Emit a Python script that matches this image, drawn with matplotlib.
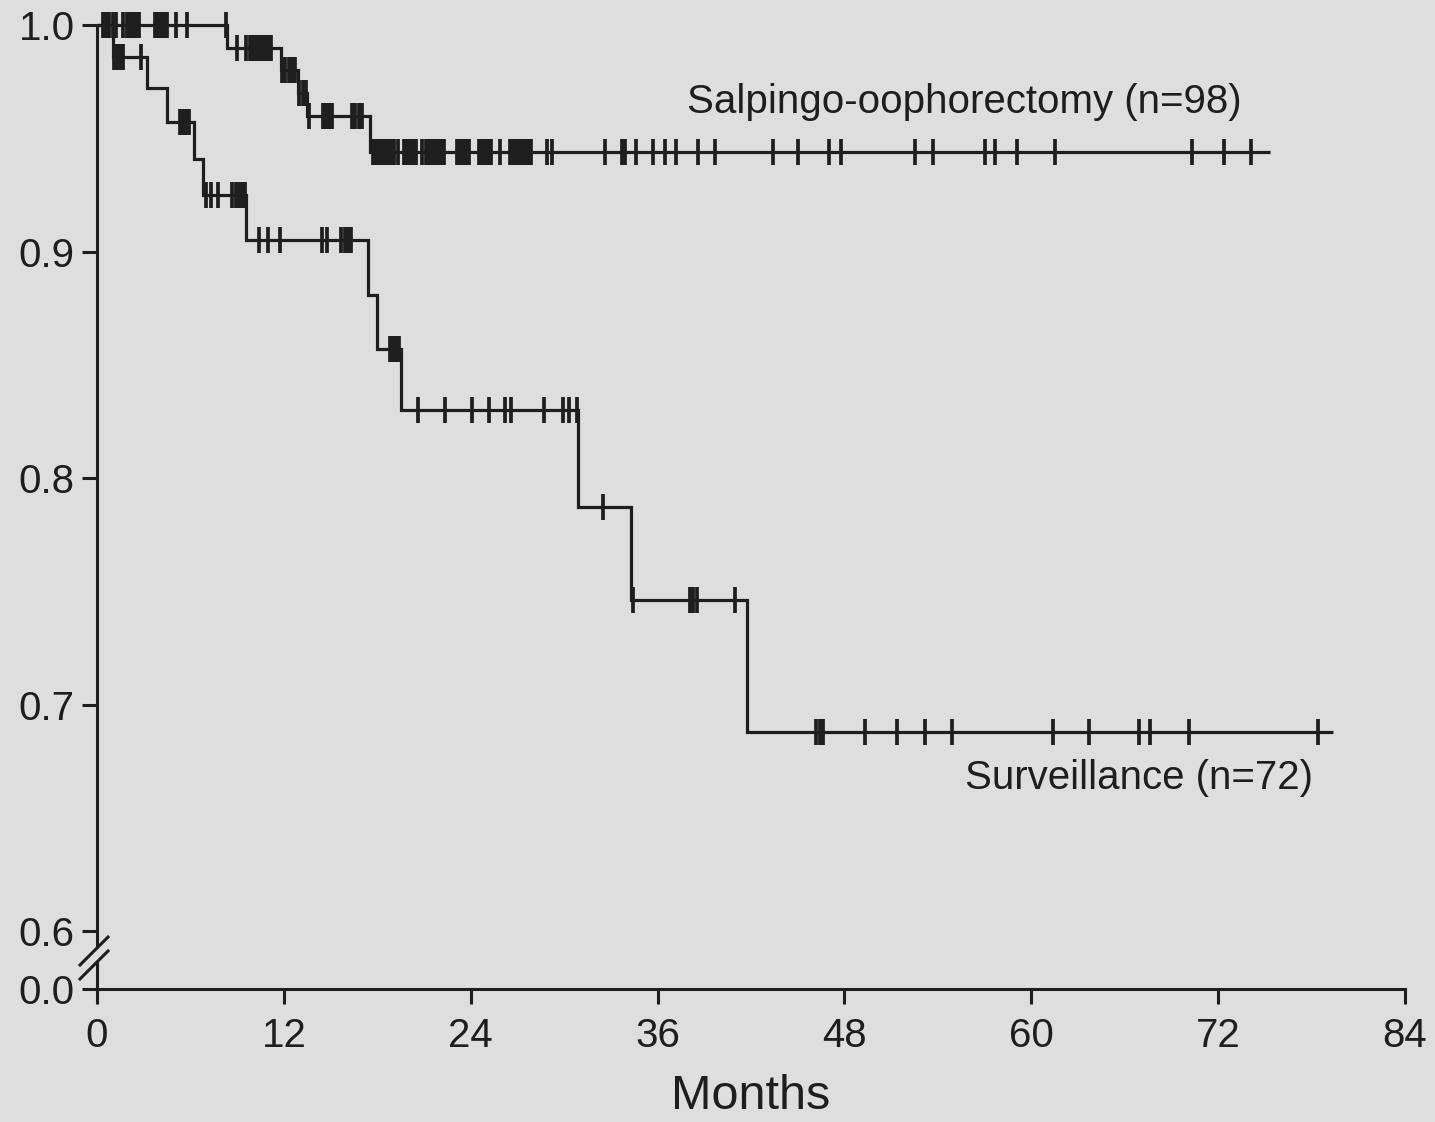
import numpy as np
import matplotlib
matplotlib.use("Agg")
import matplotlib.pyplot as plt

plt.rcParams['font.family'] = ['Liberation Sans', 'DejaVu Sans']

# ---------------- data ----------------
# Salpingo-oophorectomy group
so_event_times = [8.35, 11.8, 12.9, 13.5, 17.5]
so_survival = [1.0, 0.990, 0.980, 0.970, 0.960, 0.944]
so_end_time = 75.3
so_censor_times = [
    0.4, 0.6, 0.8, 1.0, 1.2,
    1.7, 1.9, 2.1, 2.3, 2.5, 2.7,
    3.7, 3.9, 4.1, 4.3, 4.5,
    5.1, 5.8, 8.3,
    9.0, 9.6, 9.8, 10.0, 10.2, 10.4, 10.6, 10.8, 11.0, 11.2,
    11.9, 12.1, 12.3, 12.5, 12.7,
    13.0, 13.2, 13.4,
    13.6, 14.5, 14.7, 14.9, 15.1, 16.4, 16.6, 16.8, 17.0,
    17.7, 17.9, 18.1, 18.3, 18.5, 18.7, 18.9, 19.1, 19.3,
    19.7, 19.9, 20.1, 20.3, 20.5,
    20.9, 21.1, 21.3, 21.5, 21.7, 21.9, 22.1, 22.3,
    23.1, 23.3, 23.5, 23.7, 23.9,
    24.5, 24.7, 24.9, 25.1, 25.3,
    25.9,
    26.5, 26.7, 26.9, 27.1, 27.3, 27.5, 27.7, 27.9,
    28.9, 29.2, 32.6, 33.7, 33.9, 34.6, 35.7, 36.5, 37.2, 38.6, 39.7,
    43.4, 45.0, 47.0, 47.8, 52.5, 53.7, 57.0, 57.7, 59.1, 61.5,
    70.3, 72.4, 74.1,
]

# Surveillance group
sv_event_times = [1.0, 3.2, 4.5, 6.2, 6.8, 9.6, 17.4, 18.0, 19.5, 30.9, 34.3, 41.75]
sv_survival = [1.0, 0.986, 0.972, 0.957, 0.941, 0.925, 0.905, 0.881, 0.857,
               0.830, 0.787, 0.746, 0.688]
sv_end_time = 79.4
sv_censor_times = [
    1.1, 1.3, 1.5, 1.7, 2.8,
    5.3, 5.5, 5.7, 5.9,
    7.0, 7.3, 7.8, 8.7, 8.9, 9.1, 9.3, 9.5,
    10.4, 11.0, 11.75, 14.45, 14.8, 15.7, 15.9, 16.1, 16.3,
    18.8, 19.0, 19.2, 19.4,
    20.6, 22.35, 24.1, 25.2, 26.2, 26.6, 28.7, 29.9, 30.3, 30.85,
    32.5,
    34.4, 38.1, 38.3, 38.5, 41.0,
    46.2, 46.4, 46.6, 49.3, 51.4, 53.2, 54.9, 61.4, 63.7, 66.9, 67.6, 70.1, 78.4,
]

group_labels = ["Salpingo-oophorectomy (n=98)", "Surveillance (n=72)"]
x_ticks = [0, 12, 24, 36, 48, 60, 72, 84]
y_ticks = [0.6, 0.7, 0.8, 0.9, 1.0]
y_tick_labels = ["0.0", "0.6", "0.7", "0.8", "0.9", "1.0"]
x_label = "Months"

# ---------------- style ----------------
BG = "#dedede"
INK = "#1e1e1e"
Y_ZERO = 0.5744   # axis position standing for 0.0 below the break

fig = plt.figure(figsize=(14.35, 11.22), dpi=100, facecolor=BG)
ax = fig.add_axes([97 / 1435, (1122 - 989) / 1122, 1308 / 1435, 964 / 1122])
ax.set_facecolor(BG)


def km_curve(ax, ev_t, surv, end_t, cens_t):
    t = [0.0] + list(ev_t) + [end_t]
    s = list(surv) + [surv[-1]]
    ax.step(t, s, where="post", color=INK, lw=2.3, clip_on=False,
            solid_capstyle="butt", solid_joinstyle="miter", zorder=3)
    idx = np.searchsorted(np.asarray(ev_t), np.asarray(cens_t), side="right")
    lev = np.asarray(surv)[idx]
    ax.plot(cens_t, lev, ls="none", marker="|", ms=18.5, mew=2.7,
            color=INK, clip_on=False, zorder=3)


km_curve(ax, so_event_times, so_survival, so_end_time, so_censor_times)
km_curve(ax, sv_event_times, sv_survival, sv_end_time, sv_censor_times)

ax.text(37.9, 0.9612, group_labels[0], fontsize=29, color=INK,
        ha="left", va="baseline")
ax.text(55.75, 0.6627, group_labels[1], fontsize=29, color=INK,
        ha="left", va="baseline")

ax.set_xlim(0, 84)
ax.set_ylim(Y_ZERO, 1.0)
ax.set_xticks(x_ticks)
ax.set_xticklabels([str(v) for v in x_ticks])
ax.set_yticks([Y_ZERO] + y_ticks)
ax.set_yticklabels(y_tick_labels)

ax.tick_params(axis="both", direction="out", length=11, width=2.2,
               color=INK, labelcolor=INK, labelsize=29)
ax.tick_params(axis="y", pad=5)
ax.tick_params(axis="x", pad=9)

for side in ("top", "right", "left"):
    ax.spines[side].set_visible(False)
ax.spines["bottom"].set_color(INK)
ax.spines["bottom"].set_linewidth(2.2)

# left axis line drawn in two pieces with a break
ax.plot([0, 0], [0.0425, 1.0], transform=ax.transAxes, color=INK, lw=2.2,
        clip_on=False, solid_capstyle="butt", zorder=4)
ax.plot([0, 0], [0.0, 0.028], transform=ax.transAxes, color=INK, lw=2.2,
        clip_on=False, solid_capstyle="butt", zorder=4)
# break marks
ax.plot([-0.013, 0.0084], [0.0249, 0.0539], transform=ax.transAxes,
        color=INK, lw=2.2, clip_on=False, zorder=4)
ax.plot([-0.013, 0.0084], [0.0104, 0.0394], transform=ax.transAxes,
        color=INK, lw=2.2, clip_on=False, zorder=4)

ax.set_xlabel(x_label, fontsize=35, color=INK, labelpad=14)

fig.savefig("out.png", dpi=100, facecolor=BG)
